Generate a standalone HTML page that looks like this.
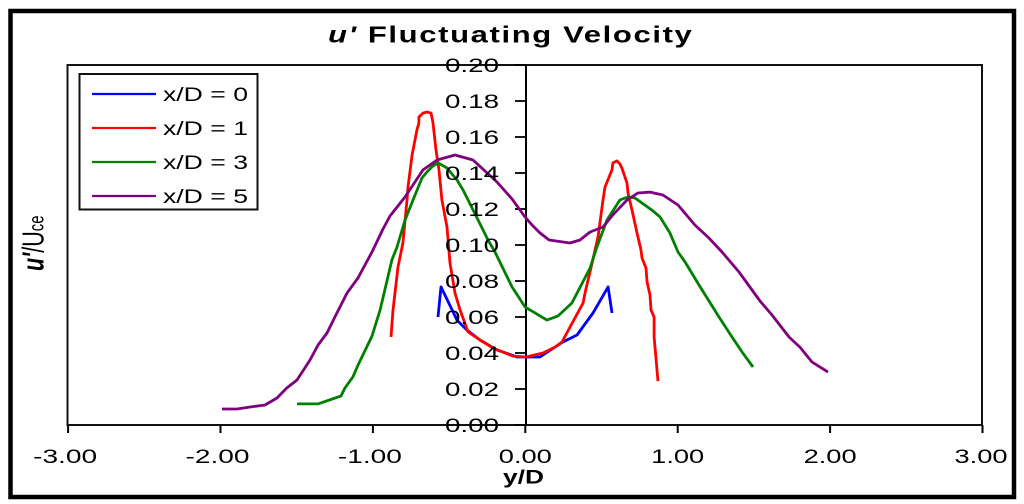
<!DOCTYPE html>
<html lang="en">
<head>
<meta charset="utf-8">
<title>u' Fluctuating Velocity</title>
<style>
html,body{margin:0;padding:0;background:#fff;width:1024px;height:504px;overflow:hidden}
svg{display:block;filter:blur(.35px)}
text{font-family:"Liberation Sans",Arial,sans-serif;fill:#000}
</style>
</head>
<body>
<svg id="chart" xmlns="http://www.w3.org/2000/svg" width="1024" height="504" viewBox="0 0 1024 504">
  <rect x="10.5" y="11" width="1003.5" height="486" fill="#fff" stroke="#000" stroke-width="4.5"/>
  <text transform="translate(328,42.5) scale(1.35,1)" font-size="23" font-weight="bold" letter-spacing="1.2"><tspan font-style="italic">u'</tspan> Fluctuating Velocity</text>
  <rect x="67.5" y="65" width="914.5" height="360" fill="#fff" stroke="#111" stroke-width="2"/>
  <g id="axes"></g>
  <g id="series"></g>
  <g id="labels"></g>
  <text x="503" y="483.5" font-size="19" font-weight="bold" textLength="41" lengthAdjust="spacingAndGlyphs">y/D</text>
  <text transform="translate(43.5,271) rotate(-90) scale(1,1.4)" font-size="21.5" font-weight="bold"><tspan font-style="italic">u'</tspan><tspan font-weight="normal">/U</tspan><tspan font-weight="normal" font-size="15">ce</tspan></text>
  <g id="legend">
    <rect x="79.5" y="74" width="178" height="135.5" fill="#fff" stroke="#111" stroke-width="2"/>
  </g>
</svg>
<script>
const xTicks = [-3, -2, -1, 0, 1, 2, 3];
const yTicks = [0, 0.02, 0.04, 0.06, 0.08, 0.10, 0.12, 0.14, 0.16, 0.18, 0.20];
const seriesNames = ["x/D = 0", "x/D = 1", "x/D = 3", "x/D = 5"];
const seriesColors = ["#0000ff", "#ff0000", "#008000", "#7f007f"];

const xd0 = [-0.573,-0.553,-0.448,-0.383,-0.297,-0.186,-0.054,0.096,0.247,0.339,0.444,0.543,0.569];
const yd0 = [0.0600,0.0767,0.0583,0.0528,0.0472,0.0417,0.0378,0.0378,0.0461,0.0500,0.0622,0.0767,0.0622];

const xd1 = [-0.881,-0.868,-0.835,-0.803,-0.776,-0.770,-0.743,-0.711,-0.698,-0.698,-0.671,-0.645,-0.619,-0.612,-0.606,-0.586,-0.566,-0.547,-0.514,-0.494,-0.461,-0.428,-0.376,-0.297,-0.212,-0.081,0.005,0.116,0.195,0.241,0.293,0.379,0.392,0.438,0.477,0.510,0.523,0.569,0.575,0.602,0.621,0.634,0.667,0.674,0.700,0.733,0.759,0.766,0.792,0.799,0.818,0.825,0.845,0.845,0.871];
const yd1 = [0.0489,0.0639,0.0878,0.1011,0.1250,0.1322,0.1500,0.1639,0.1678,0.1711,0.1733,0.1739,0.1733,0.1706,0.1683,0.1528,0.1417,0.1250,0.1100,0.0900,0.0733,0.0639,0.0517,0.0472,0.0428,0.0383,0.0378,0.0400,0.0433,0.0461,0.0544,0.0678,0.0733,0.0900,0.1044,0.1250,0.1322,0.1417,0.1456,0.1467,0.1450,0.1428,0.1344,0.1289,0.1194,0.1067,0.0972,0.0928,0.0872,0.0794,0.0722,0.0639,0.0600,0.0489,0.0244];

const xd3 = [-1.498,-1.360,-1.209,-1.183,-1.131,-1.098,-1.006,-0.953,-0.875,-0.842,-0.789,-0.737,-0.678,-0.645,-0.606,-0.573,-0.514,-0.448,-0.409,-0.310,-0.245,-0.199,-0.087,-0.002,0.142,0.215,0.306,0.425,0.470,0.536,0.621,0.674,0.720,0.831,0.884,0.949,1.002,1.048,1.140,1.271,1.356,1.422,1.494];
const yd3 = [0.0117,0.0117,0.0161,0.0206,0.0267,0.0333,0.0494,0.0639,0.0917,0.0989,0.1139,0.1250,0.1372,0.1406,0.1439,0.1456,0.1428,0.1361,0.1306,0.1139,0.1028,0.0961,0.0767,0.0656,0.0583,0.0606,0.0678,0.0872,0.0989,0.1139,0.1250,0.1267,0.1261,0.1194,0.1156,0.1067,0.0961,0.0906,0.0778,0.0600,0.0489,0.0406,0.0322];

const xd5 = [-1.990,-1.892,-1.806,-1.708,-1.629,-1.564,-1.498,-1.413,-1.360,-1.301,-1.236,-1.170,-1.098,-1.006,-0.934,-0.888,-0.789,-0.671,-0.579,-0.461,-0.343,-0.186,-0.087,-0.002,0.044,0.096,0.156,0.293,0.359,0.425,0.510,0.575,0.667,0.739,0.818,0.903,1.002,1.113,1.205,1.291,1.402,1.540,1.619,1.730,1.802,1.881,1.986];
const yd5 = [0.0089,0.0089,0.0100,0.0111,0.0150,0.0206,0.0250,0.0361,0.0444,0.0511,0.0622,0.0733,0.0817,0.0961,0.1089,0.1161,0.1267,0.1417,0.1472,0.1500,0.1472,0.1350,0.1256,0.1156,0.1111,0.1067,0.1028,0.1011,0.1028,0.1072,0.1100,0.1167,0.1250,0.1289,0.1294,0.1278,0.1222,0.1111,0.1039,0.0961,0.0850,0.0689,0.0611,0.0489,0.0433,0.0350,0.0294];

const seriesX = [xd0, xd1, xd3, xd5];
const seriesY = [yd0, yd1, yd3, yd5];

const NS = "http://www.w3.org/2000/svg";
function xScale(v) { return 525.3 + v * 152.4; }
function yScale(v) { return 425 - v * 1800; }
function make(tag, attrs, parent) {
  const n = document.createElementNS(NS, tag);
  for (const k in attrs) n.setAttribute(k, attrs[k]);
  parent.appendChild(n);
  return n;
}

const axes = document.getElementById("axes");
const labels = document.getElementById("labels");
const seriesGroup = document.getElementById("series");
const legend = document.getElementById("legend");

const yAxisLine = make("line", {x1: 526, x2: 526, y1: 65, y2: 425, stroke: "#000", "stroke-width": 2}, axes);



yTicks.forEach(function (t) {
  const y = yScale(t);
  const tick = make("line", {x1: 515, x2: 526, y1: y, y2: y, stroke: "#000", "stroke-width": 1.8}, axes);
  
  
  const label = make("text", {x: 445, y: y + 6.8, "font-size": 19.5, textLength: 54, lengthAdjust: "spacingAndGlyphs"}, labels);
  
  
  label.textContent = t.toFixed(2);
});

xTicks.forEach(function (t) {
  const x = xScale(t);
  const tick = make("line", {x1: x, x2: x, y1: 425, y2: 433, stroke: "#000", "stroke-width": 2}, axes);
  
  
  const w = t < 0 ? 64 : 53;
  const cx = t < 0 ? x - 3 : x;
  const label = make("text", {x: cx - w / 2 + (t === 3 ? -1.5 : 0), y: 463, "font-size": 19.5, textLength: w, lengthAdjust: "spacingAndGlyphs"}, labels);
  
  
  label.textContent = t.toFixed(2);
});

seriesNames.forEach(function (name, i) {
  const pts = seriesX[i].map(function (v, j) {
    return xScale(v).toFixed(1) + "," + yScale(seriesY[i][j]).toFixed(1);
  }).join(" ");
  const line = make("polyline", {points: pts, fill: "none", stroke: seriesColors[i], "stroke-width": 2.8, "stroke-linejoin": "round"}, seriesGroup);
  
  

  const ly = 94 + i * 34;
  const swatch = make("line", {x1: 92, x2: 156, y1: ly, y2: ly, stroke: seriesColors[i], "stroke-width": 2.2}, legend);
  
  
  const text = make("text", {x: 163, y: ly + 7, "font-size": 19.5, textLength: 85, lengthAdjust: "spacingAndGlyphs"}, legend);
  
  
  text.textContent = name;
});
</script>
</body>
</html>
